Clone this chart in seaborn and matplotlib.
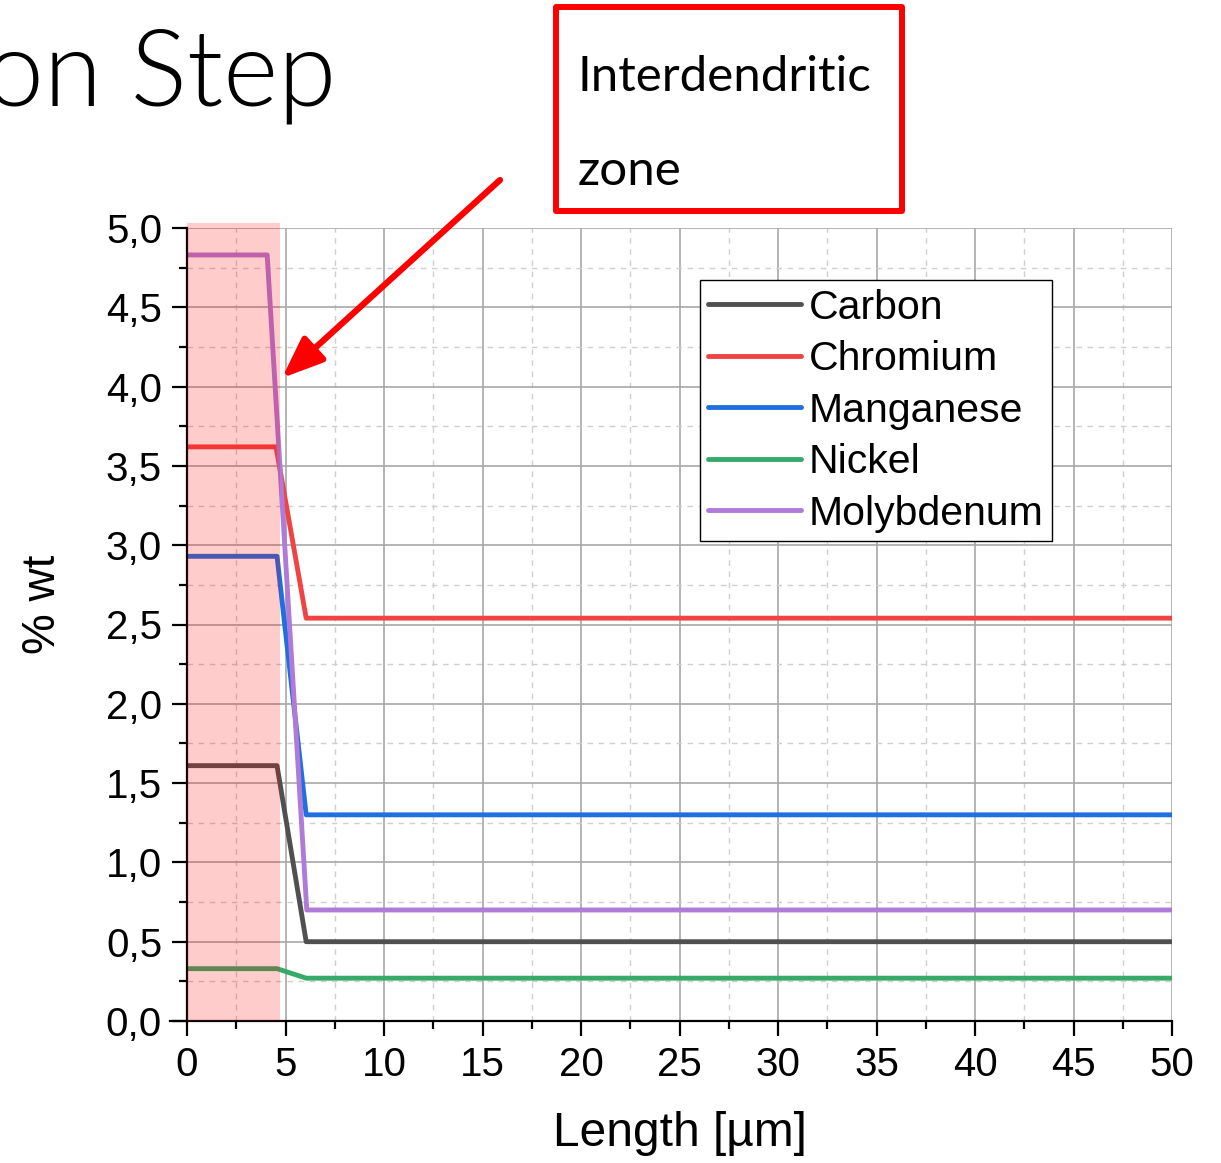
import matplotlib
matplotlib.use("Agg")
import matplotlib.pyplot as plt
from matplotlib.ticker import MultipleLocator, FuncFormatter
from matplotlib.patches import Rectangle
import numpy as np
import pandas as pd
import seaborn as sns

# Concentration profiles along the measured length (µm) in % wt
elements = ["Carbon", "Chromium", "Manganese", "Nickel", "Molybdenum"]

carbon_x = [0.0, 4.57, 6.05, 50.0]
carbon_y = [1.61, 1.61, 0.50, 0.50]

chromium_x = [0.0, 4.52, 6.05, 50.0]
chromium_y = [3.62, 3.62, 2.54, 2.54]

manganese_x = [0.0, 4.57, 6.05, 50.0]
manganese_y = [2.93, 2.93, 1.30, 1.30]

nickel_x = [0.0, 4.57, 6.05, 50.0]
nickel_y = [0.33, 0.33, 0.27, 0.27]

molybdenum_x = [0.0, 4.07, 6.08, 50.0]
molybdenum_y = [4.83, 4.83, 0.70, 0.70]

zone_end = 4.72  # interdendritic zone boundary (µm)

colors = ["#505050", "#f04444", "#1f6fe0", "#36aa68", "#b07ad8"]

series_x = [carbon_x, chromium_x, manganese_x, nickel_x, molybdenum_x]
series_y = [carbon_y, chromium_y, manganese_y, nickel_y, molybdenum_y]
frames = [pd.DataFrame({"Length": xs, "wt": ys, "Element": name})
          for name, xs, ys in zip(elements, series_x, series_y)]
df = pd.concat(frames, ignore_index=True)

sns.set_style("white")
plt.rcParams["font.family"] = ["Liberation Sans", "DejaVu Sans"]
for key in ("text.color", "axes.labelcolor", "xtick.color", "ytick.color"):
    plt.rcParams[key] = "black"

W, H = 1221, 1163
fig = plt.figure(figsize=(W / 100, H / 100), dpi=100)
ax = fig.add_axes([187 / W, 1 - 1021 / H, 985 / W, 793 / H])

sns.lineplot(data=df, x="Length", y="wt", hue="Element", hue_order=elements,
             palette=colors, linewidth=3.5, sort=False, estimator=None,
             ax=ax, legend=False, zorder=2)

ax.set_xlim(0, 50)
ax.set_ylim(0, 5.0)

ax.xaxis.set_major_locator(MultipleLocator(5))
ax.xaxis.set_minor_locator(MultipleLocator(2.5))
ax.yaxis.set_major_locator(MultipleLocator(0.5))
ax.yaxis.set_minor_locator(MultipleLocator(0.25))
ax.yaxis.set_major_formatter(FuncFormatter(lambda v, _: f"{v:.1f}".replace(".", ",")))
ax.xaxis.set_major_formatter(FuncFormatter(lambda v, _: f"{v:g}"))

ax.grid(True, which="major", color="#a8a8a8", linewidth=1.2, linestyle="-", zorder=0)
ax.grid(True, which="minor", color="#cfcfcf", linewidth=1.0, linestyle=(0, (4, 4)), zorder=0)
ax.set_axisbelow(True)
ax.get_ygridlines()[-1].set_visible(False)

for side in ("top", "right"):
    ax.spines[side].set_visible(False)
for side in ("left", "bottom"):
    ax.spines[side].set_color("black")
    ax.spines[side].set_linewidth(1.6)
ax.spines["bottom"].set_bounds(-0.85, 50)

ax.tick_params(axis="both", which="major", direction="out", length=11, width=1.6,
               color="black", labelsize=29, pad=7)
ax.tick_params(axis="both", which="minor", direction="out", length=5.5, width=1.6,
               color="black")
ax.tick_params(axis="x", which="both", bottom=True)
ax.tick_params(axis="y", which="both", left=True)

ax.set_xlabel("Length [µm]", fontsize=34.5)
ax.set_ylabel("% wt", fontsize=33)
ax.xaxis.set_label_coords(0.5005, -0.114)
ax.yaxis.set_label_coords(-0.124, 0.525)

# Shaded interdendritic zone, laid over the curves
ax.axvspan(0, zone_end, ymin=0, ymax=1.006, color="#ff0000", alpha=0.2,
           linewidth=0, zorder=3, clip_on=False)

handles = [plt.Line2D([], [], color=c, linewidth=3.5) for c in colors]
leg = ax.legend(handles, elements, loc="upper left", bbox_to_anchor=(0.521, 0.934),
                fontsize=29.5, frameon=True, fancybox=False, framealpha=1,
                edgecolor="black", borderpad=0.2, labelspacing=0.33,
                handlelength=2.25, handletextpad=0.2, borderaxespad=0)
leg.get_frame().set_linewidth(1.0)
leg.set_zorder(5)

# Slide heading and call-out
fig.text(-0.012, 1 - 105 / H, "on Step", fontsize=76, family="Lato",
         weight=300, va="baseline", ha="left", color="black")

fig.patches.append(Rectangle((556 / W, 1 - 211 / H), 346 / W, 204 / H,
                             transform=fig.transFigure, fill=False,
                             edgecolor="#ff0000", linewidth=4.3,
                             joinstyle="round"))
fig.text(578 / W, 1 - 91 / H, "Interdendritic", fontsize=35.5, family="Lato",
         va="baseline", ha="left", color="black")
fig.text(578 / W, 1 - 185 / H, "zone", fontsize=35.5, family="Lato",
         va="baseline", ha="left", color="black")

ax.annotate("", xy=(282 / W, 1 - 378 / H), xytext=(500 / W, 1 - 180 / H),
            xycoords="figure fraction", textcoords="figure fraction",
            arrowprops=dict(arrowstyle="-|>,head_length=1.25,head_width=0.5",
                            color="#ff0000", linewidth=4.5, mutation_scale=20,
                            shrinkA=0, shrinkB=0))

fig.savefig("out.png", dpi=100)
